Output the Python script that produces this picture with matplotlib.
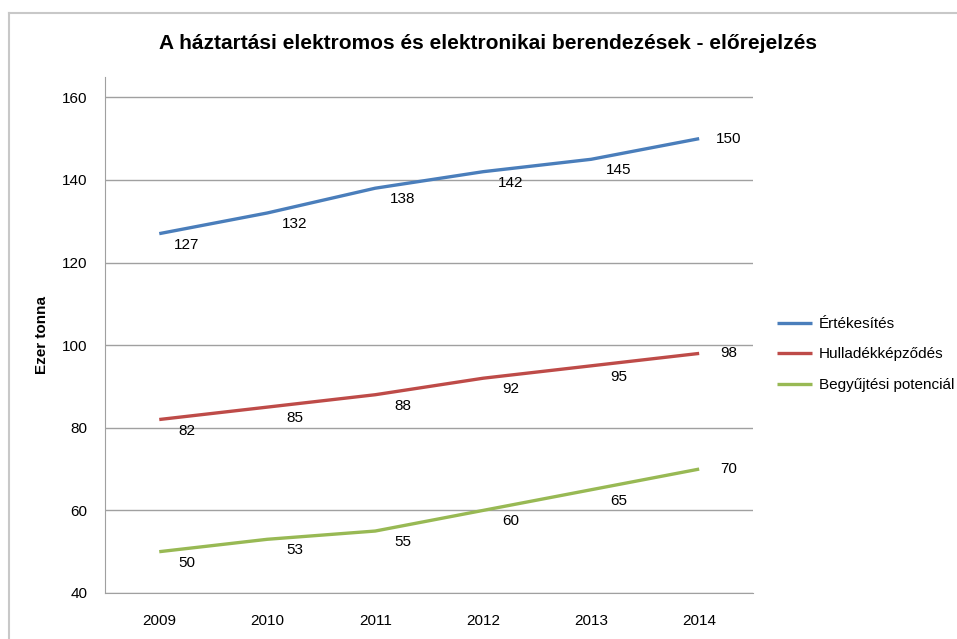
import matplotlib
matplotlib.use("Agg")
import matplotlib.pyplot as plt
from matplotlib.lines import Line2D

plt.rcParams['font.family'] = ['Liberation Sans', 'DejaVu Sans']

years = ['2009', '2010', '2011', '2012', '2013', '2014']
ertekesites = [127, 132, 138, 142, 145, 150]
hulladek = [82, 85, 88, 92, 95, 98]
begyujtes = [50, 53, 55, 60, 65, 70]

names = ['Értékesítés', 'Hulladékképződés', 'Begyűjtési potenciál']
colors = ['#4A7EBB', '#BE4B48', '#98B954']
series = [ertekesites, hulladek, begyujtes]

fig = plt.figure(figsize=(9.57, 6.39), dpi=100)
ax = fig.add_axes([0.110, 0.072, 0.677, 0.808])

x = range(len(years))
for vals, name, c in zip(series, names, colors):
    ax.plot(x, vals, color=c, lw=2.4, label=name, solid_capstyle='butt')
    for i, v in enumerate(vals):
        if i == len(vals) - 1:
            off = (21, 0)
        else:
            off = (20, -8)
        ax.annotate(str(v), (i, v), xytext=off, textcoords='offset points',
                    ha='center', va='center', fontsize=11, color='black')

ax.set_xlim(-0.5, 5.5)
ax.set_ylim(40, 165)
ax.set_yticks(range(40, 161, 20))
ax.set_xticks(list(x))
ax.set_xticklabels(years)
ax.yaxis.grid(True, color='#A0A0A0', lw=1)
ax.set_axisbelow(True)
for s in ['top', 'right']:
    ax.spines[s].set_visible(False)
ax.spines['left'].set_color('#A0A0A0')
ax.spines['bottom'].set_color('#A0A0A0')
ax.tick_params(length=0, labelsize=11, pad=13)
ax.tick_params(axis='x', pad=15)
ax.set_ylabel('Ezer tonna', fontsize=11, fontweight='bold', labelpad=9)

fig.text(0.51, 0.932, 'A háztartási elektromos és elektronikai berendezések - előrejelzés',
         ha='center', va='center', fontsize=15, fontweight='bold')

ax.legend(loc='center left', bbox_to_anchor=(1.016, 0.462), frameon=False,
          fontsize=11, handlelength=2.3, handletextpad=0.4, labelspacing=1.08)

# chart border
fig.add_artist(Line2D([0.009, 0.009], [0.0, 0.98], color='#C8C8C8', lw=1.5))
fig.add_artist(Line2D([0.009, 1.0], [0.98, 0.98], color='#C8C8C8', lw=1.5))

fig.savefig('out.png', dpi=100)
